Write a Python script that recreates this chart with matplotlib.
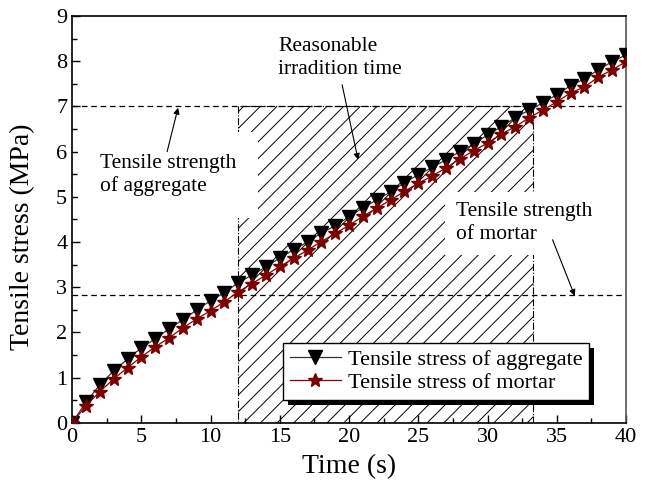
import numpy as np
import matplotlib
matplotlib.use('Agg')
import matplotlib.pyplot as plt
from matplotlib.patches import Rectangle

plt.rcParams['font.family'] = ['Liberation Serif', 'DejaVu Serif']
plt.rcParams['hatch.linewidth'] = 0.7

# time in seconds
time = np.arange(0, 41)

aggregate = [0, 0.46, 0.84, 1.15, 1.41, 1.66, 1.86, 2.08, 2.28, 2.5, 2.7,
             2.88, 3.1, 3.27, 3.45, 3.65, 3.83, 4.0, 4.2, 4.36, 4.56,
             4.76, 4.93, 5.11, 5.31, 5.49, 5.65, 5.82, 6.0, 6.17, 6.37,
             6.55, 6.75, 6.92, 7.08, 7.26, 7.46, 7.61, 7.81, 7.99, 8.14]
mortar = [0, 0.38, 0.69, 0.97, 1.22, 1.46, 1.68, 1.88, 2.1, 2.3, 2.48,
          2.68, 2.9, 3.08, 3.27, 3.46, 3.64, 3.82, 4.01, 4.19, 4.37,
          4.57, 4.75, 4.93, 5.12, 5.3, 5.46, 5.64, 5.84, 6.02, 6.19,
          6.39, 6.55, 6.75, 6.92, 7.1, 7.3, 7.43, 7.65, 7.81, 7.99]

strength_aggregate = 7.0
strength_mortar = 2.82
window = (12.0, 33.3)   # reasonable irradiation time

fig = plt.figure(figsize=(6.5, 4.86), dpi=100)
ax = fig.add_axes([0.111, 0.130, 0.852, 0.837])

# hatched window
ax.add_patch(Rectangle((window[0], 0), window[1] - window[0], strength_aggregate,
                       facecolor='none', edgecolor='k', hatch='//',
                       linewidth=0.8, linestyle='-.', zorder=1))

ax.axhline(strength_aggregate, color='k', lw=0.9, dashes=(4.5, 3), zorder=2)
ax.axhline(strength_mortar, color='k', lw=0.9, dashes=(4.5, 3), zorder=2)

ax.plot(time, aggregate, color='#333333', lw=0.9, marker='v', ms=9.5,
        mfc='k', mec='k', label='Tensile stress of aggregate', zorder=5)
ax.plot(time, mortar, color='#8b0000', lw=0.9, marker='*', ms=10.5,
        mfc='#7a0000', mec='#7a0000', label='Tensile stress of mortar', zorder=6)

arrow = dict(arrowstyle='-|>', color='k', lw=0.8, mutation_scale=9, shrinkA=0, shrinkB=0)

ax.annotate('', xy=(7.65, 6.97), xytext=(6.86, 6.0), arrowprops=arrow, zorder=4)
ax.text(2.0, 5.48, 'Tensile strength\nof aggregate', fontsize=15.5, ha='left', va='center',
        linespacing=1.25, zorder=3,
        bbox=dict(boxstyle='square,pad=1.0', facecolor='white', edgecolor='none'))

ax.annotate('', xy=(20.65, 5.82), xytext=(19.5, 7.48), arrowprops=arrow, zorder=4)
ax.text(14.9, 8.07, 'Reasonable\nirradition time', fontsize=15.5, ha='left', va='center',
        linespacing=1.25, zorder=3)

ax.annotate('', xy=(36.3, 2.81), xytext=(34.7, 4.05), arrowprops=arrow, zorder=4)
ax.text(27.7, 4.42, 'Tensile strength\nof mortar', fontsize=15.5, ha='left', va='center',
        linespacing=1.25, zorder=3,
        bbox=dict(boxstyle='square,pad=0.5', facecolor='white', edgecolor='none'))

ax.set_xlim(0, 40)
ax.set_ylim(0, 9)
ax.set_xticks(np.arange(0, 41, 5))
ax.set_xticks(np.arange(0, 41, 2.5), minor=True)
ax.set_yticks(np.arange(0, 10, 1))
ax.set_yticks(np.arange(0, 9.1, 0.5), minor=True)
ax.tick_params(which='both', direction='in', labelsize=16, top=False, right=False)
ax.tick_params(which='major', length=6, width=1)
ax.tick_params(which='minor', length=3.5, width=1)
for s in ax.spines.values():
    s.set_linewidth(1.2)
ax.spines['right'].set_color('#555555')

ax.set_xlabel('Time (s)', fontsize=20, labelpad=5)
ax.set_ylabel('Tensile stress (MPa)', fontsize=20)
ax.yaxis.set_label_coords(-0.067, 0.458)

leg = ax.legend(loc='lower left', bbox_to_anchor=(0.381, 0.057), fontsize=16,
                frameon=True, fancybox=False, edgecolor='k', framealpha=1,
                handlelength=2.3, handletextpad=0.3, borderpad=0.3,
                labelspacing=0.1, borderaxespad=0)
leg.get_frame().set_linewidth(1.0)
leg.set_zorder(10)

# solid black drop shadow under the legend box
fig.canvas.draw()
bb = leg.get_window_extent().transformed(ax.transAxes.inverted())
dx = 5 / (ax.bbox.width)
dy = 5 / (ax.bbox.height)
ax.add_patch(Rectangle((bb.x0 + dx, bb.y0 - dy), bb.width, bb.height,
                       transform=ax.transAxes, facecolor='k', edgecolor='none',
                       zorder=9, clip_on=False))

fig.savefig('out.png', dpi=100)
